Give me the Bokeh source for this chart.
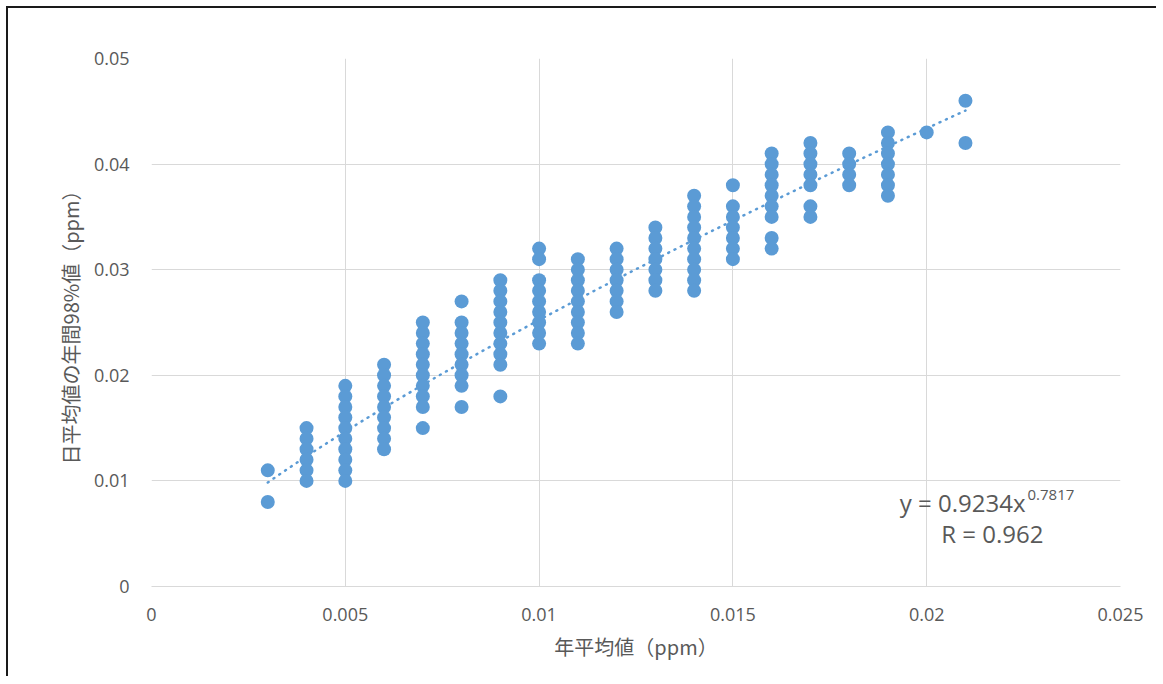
from bokeh.plotting import figure
from bokeh.models import FixedTicker, Label
from bokeh.embed import file_html
from bokeh.resources import INLINE
import numpy as np

# annual mean (ppm) categories and the observed 98th-percentile values per category
x_levels = [0.003, 0.004, 0.005, 0.006, 0.007, 0.008, 0.009, 0.010, 0.011, 0.012,
            0.013, 0.014, 0.015, 0.016, 0.017, 0.018, 0.019, 0.020, 0.021]
y_003 = [0.011, 0.008]
y_004 = [0.015, 0.014, 0.013, 0.012, 0.011, 0.010]
y_005 = [0.019, 0.018, 0.017, 0.016, 0.015, 0.014, 0.013, 0.012, 0.011, 0.010]
y_006 = [0.021, 0.020, 0.019, 0.018, 0.017, 0.016, 0.015, 0.014, 0.013]
y_007 = [0.025, 0.024, 0.023, 0.022, 0.021, 0.020, 0.019, 0.018, 0.017, 0.015]
y_008 = [0.027, 0.025, 0.024, 0.023, 0.022, 0.021, 0.020, 0.019, 0.017]
y_009 = [0.029, 0.028, 0.027, 0.026, 0.025, 0.024, 0.023, 0.022, 0.021, 0.018]
y_010 = [0.032, 0.031, 0.029, 0.028, 0.027, 0.026, 0.025, 0.024, 0.023]
y_011 = [0.031, 0.030, 0.029, 0.028, 0.027, 0.026, 0.025, 0.024, 0.023]
y_012 = [0.032, 0.031, 0.030, 0.029, 0.028, 0.027, 0.026]
y_013 = [0.034, 0.033, 0.032, 0.031, 0.030, 0.029, 0.028]
y_014 = [0.037, 0.036, 0.035, 0.034, 0.033, 0.032, 0.031, 0.030, 0.029, 0.028]
y_015 = [0.038, 0.036, 0.035, 0.034, 0.033, 0.032, 0.031]
y_016 = [0.041, 0.040, 0.039, 0.038, 0.037, 0.036, 0.035, 0.033, 0.032]
y_017 = [0.042, 0.041, 0.040, 0.039, 0.038, 0.036, 0.035]
y_018 = [0.041, 0.040, 0.039, 0.038]
y_019 = [0.043, 0.042, 0.041, 0.040, 0.039, 0.038, 0.037]
y_020 = [0.043]
y_021 = [0.046, 0.042]
y_groups = [y_003, y_004, y_005, y_006, y_007, y_008, y_009, y_010, y_011, y_012,
            y_013, y_014, y_015, y_016, y_017, y_018, y_019, y_020, y_021]

# power trendline y = a * x^b
trend_a = 0.9234
trend_b = 0.7817
trend_label = "y = 0.9234x"
trend_sup = "0.7817"
r_label = "R = 0.962"

x_ticks = [0, 0.005, 0.01, 0.015, 0.02, 0.025]
x_tick_labels = ["0", "0.005", "0.01", "0.015", "0.02", "0.025"]
y_ticks = [0, 0.01, 0.02, 0.03, 0.04, 0.05]
y_tick_labels = ["0", "0.01", "0.02", "0.03", "0.04", "0.05"]
x_title = "年平均値（ppm）"
y_title = "日平均値の年間98%値（ppm）"

xs, ys = [], []
for xv, grp in zip(x_levels, y_groups):
    for yv in grp:
        xs.append(xv)
        ys.append(yv)

BLUE = "#5B9BD5"
TXT = "#595959"
GRID = "#D9D9D9"
NUM_FONT = "Open Sans"
JP_FONT = "Noto Sans CJK JP"

p = figure(width=1150, height=670, output_backend="svg", toolbar_location=None,
           x_range=(0, 0.025), y_range=(0, 0.05),
           min_border_left=143, min_border_top=50, min_border_right=38, min_border_bottom=92)
p.outline_line_color = None
p.border_fill_color = "white"
p.styles = {"margin-left": "6px", "margin-top": "6px",
            "border-left": "2px solid #1a1a1a", "border-top": "2px solid #1a1a1a"}

# trendline
tx = np.linspace(min(x_levels), max(x_levels), 200)
ty = trend_a * tx ** trend_b
p.line(tx, ty, line_color=BLUE, line_width=2.5, line_dash="1 6", line_cap="round")

p.scatter(xs, ys, size=14, fill_color=BLUE, line_color=None)

for ax in (p.xaxis[0], p.yaxis[0]):
    ax.major_tick_line_color = None
    ax.minor_tick_line_color = None
    ax.major_label_text_color = TXT
    ax.major_label_text_font = NUM_FONT
    ax.major_label_text_font_size = "18px"
    ax.axis_label_text_color = TXT
    ax.axis_label_text_font = JP_FONT
    ax.axis_label_text_font_size = "20px"
    ax.axis_label_text_font_style = "normal"

p.xaxis.ticker = FixedTicker(ticks=x_ticks)
p.xaxis.major_label_overrides = {t: l for t, l in zip(x_ticks, x_tick_labels)}
p.yaxis.ticker = FixedTicker(ticks=y_ticks)
p.yaxis.major_label_overrides = {t: l for t, l in zip(y_ticks, y_tick_labels)}
p.xaxis.axis_label = x_title
p.yaxis.axis_label = y_title
p.xaxis.axis_line_color = GRID
p.yaxis.axis_line_color = None
p.xaxis.major_label_standoff = 15
p.yaxis.major_label_standoff = 16
p.xaxis.axis_label_standoff = 8
p.yaxis.axis_label_standoff = 6

p.xgrid.grid_line_color = GRID
p.ygrid.grid_line_color = GRID
p.xgrid.ticker = FixedTicker(ticks=x_ticks)
p.ygrid.ticker = FixedTicker(ticks=y_ticks)

FL, FB = 151, 586  # page position of frame left / bottom
p.add_layout(Label(x=1025 - FL, y=FB - 502, x_units="screen", y_units="screen",
                   text=trend_label, text_font=NUM_FONT, text_font_size="24px", text_color=TXT,
                   text_align="right", text_baseline="middle"))
p.add_layout(Label(x=1027 - FL, y=FB - 494, x_units="screen", y_units="screen",
                   text=trend_sup, text_font=NUM_FONT, text_font_size="15px", text_color=TXT,
                   text_align="left", text_baseline="middle"))
p.add_layout(Label(x=1043 - FL, y=FB - 533, x_units="screen", y_units="screen",
                   text=r_label, text_font=NUM_FONT, text_font_size="24px", text_color=TXT,
                   text_align="right", text_baseline="middle"))

open("out.html", "w").write(file_html(p, INLINE))
